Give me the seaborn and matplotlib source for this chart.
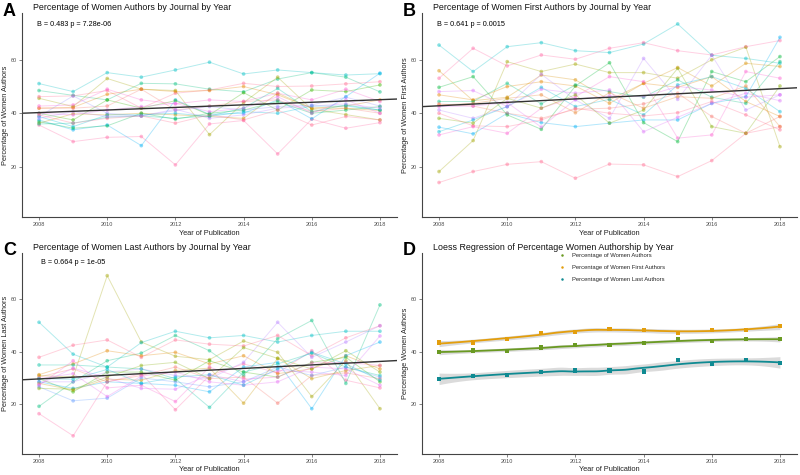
"""
Women authorship by journal and year - four panel figure
"""
import numpy as np
import pandas as pd
import matplotlib
matplotlib.use("Agg")
import matplotlib.pyplot as plt
import seaborn as sns

years = list(range(2008, 2019))
journals = [f"J{i:02d}" for i in range(1, 19)]

# percentage of women authors, one row per journal (2008 .. 2018)
women_authors = [
    [51.1, 48.1, 55.2, 53.5, 56.2, 59.1, 54.7, 56.2, 55.2, 54.3, 54.8],
    [48.5, 46.7, 45.0, 51.2, 51.0, 49.0, 48.0, 52.8, 55.2, 53.5, 48.0],
    [45.6, 42.5, 53.0, 49.0, 48.5, 32.0, 44.0, 53.5, 41.5, 39.5, 37.5],
    [35.6, 29.4, 31.0, 31.3, 20.7, 36.0, 37.3, 24.8, 37.8, 34.4, 36.5],
    [37.5, 33.8, 35.6, 27.9, 45.0, 39.6, 40.0, 45.0, 37.9, 46.2, 55.0],
    [46.2, 46.5, 48.5, 41.9, 47.5, 48.7, 51.2, 50.0, 50.2, 51.0, 51.8],
    [40.0, 37.5, 45.0, 41.9, 44.7, 39.4, 47.7, 41.2, 48.7, 48.1, 50.6],
    [41.9, 42.2, 47.1, 49.0, 48.1, 48.5, 50.0, 46.9, 41.9, 42.7, 45.0],
    [41.9, 41.9, 42.7, 49.0, 41.2, 42.7, 44.4, 45.0, 40.6, 41.9, 40.0],
    [38.8, 46.5, 40.0, 39.0, 41.0, 42.5, 41.2, 42.5, 43.1, 46.0, 42.7],
    [36.3, 39.8, 39.4, 40.0, 39.4, 38.8, 38.1, 47.5, 41.9, 41.9, 41.0],
    [38.8, 35.0, 39.4, 39.4, 40.0, 38.8, 40.6, 40.0, 42.7, 42.7, 41.2],
    [42.7, 43.1, 49.0, 45.0, 43.5, 45.0, 44.4, 47.5, 45.0, 49.0, 44.4],
    [36.0, 36.3, 38.5, 39.0, 38.1, 39.0, 41.9, 49.3, 40.6, 43.1, 41.2],
    [36.9, 34.4, 35.3, 40.0, 37.8, 40.0, 41.2, 44.4, 40.0, 41.2, 42.5],
    [40.0, 39.4, 41.2, 42.5, 43.7, 40.6, 41.9, 46.2, 40.0, 45.0, 40.0],
    [38.1, 40.6, 38.8, 39.0, 41.5, 38.1, 39.4, 41.9, 42.7, 43.5, 41.9],
    [39.4, 36.3, 38.1, 39.0, 36.3, 39.4, 37.5, 41.2, 35.6, 38.8, 37.5],
]

women_first = [
    [65.5, 55.6, 64.9, 66.4, 63.4, 62.7, 65.9, 73.4, 61.7, 60.5, 58.7],
    [53.1, 64.3, 57.7, 61.8, 60.2, 64.3, 66.4, 63.4, 61.8, 64.9, 67.2],
    [18.2, 29.8, 59.3, 55.6, 58.4, 55.2, 55.2, 53.1, 60.0, 64.7, 27.5],
    [14.1, 18.2, 20.9, 21.9, 15.7, 21.0, 20.7, 16.3, 22.3, 32.5, 35.0],
    [34.8, 32.3, 40.0, 36.5, 35.0, 36.3, 37.5, 37.5, 43.7, 46.2, 68.4],
    [49.7, 53.7, 39.4, 34.0, 50.2, 58.9, 36.5, 29.4, 55.6, 51.8, 61.2],
    [55.9, 44.7, 46.0, 54.3, 52.5, 45.0, 51.2, 57.1, 50.2, 58.7, 57.5],
    [46.9, 45.0, 50.0, 51.8, 50.2, 43.7, 51.2, 49.7, 53.7, 44.4, 38.8],
    [44.4, 44.4, 51.2, 43.5, 50.6, 48.1, 46.0, 52.5, 46.0, 43.7, 59.3],
    [43.5, 42.7, 40.0, 38.1, 41.5, 41.9, 43.5, 47.5, 38.8, 32.5, 38.8],
    [41.2, 38.1, 42.5, 54.6, 45.0, 38.1, 60.5, 45.2, 61.7, 41.2, 46.9],
    [31.9, 35.0, 32.5, 41.9, 46.2, 53.7, 51.8, 30.7, 31.9, 55.6, 53.1],
    [33.1, 37.5, 42.5, 49.7, 42.5, 45.2, 39.4, 50.6, 53.7, 49.3, 40.6],
    [40.0, 35.3, 35.0, 37.5, 41.9, 40.0, 39.0, 40.2, 44.4, 39.4, 33.8],
    [48.1, 48.5, 42.5, 49.0, 47.5, 48.7, 33.1, 38.5, 43.7, 47.5, 44.7],
    [38.1, 36.3, 45.6, 41.9, 46.9, 36.3, 41.2, 56.8, 35.0, 32.5, 50.2],
    [43.1, 43.7, 45.6, 46.9, 40.2, 47.7, 41.9, 46.2, 45.6, 50.2, 35.0],
    [42.5, 42.7, 44.0, 34.8, 45.2, 46.5, 46.2, 50.0, 48.7, 46.0, 46.9],
]

women_last = [
    [31.0, 30.4, 68.9, 43.7, 38.3, 37.0, 44.1, 39.8, 23.0, 36.6, 18.4],
    [51.2, 39.1, 34.2, 43.5, 47.8, 45.3, 46.2, 43.7, 46.2, 47.8, 47.8],
    [16.5, 8.1, 28.6, 31.7, 18.0, 31.0, 35.4, 32.0, 40.4, 29.2, 26.3],
    [19.3, 28.6, 36.6, 39.5, 46.2, 40.4, 31.0, 45.0, 51.9, 28.0, 57.8],
    [37.9, 42.5, 44.5, 37.9, 44.5, 42.9, 42.2, 46.2, 38.5, 45.3, 49.9],
    [28.6, 28.6, 32.3, 33.5, 31.0, 29.8, 36.0, 51.2, 37.9, 43.7, 49.9],
    [31.3, 35.4, 40.4, 38.5, 39.8, 35.4, 38.5, 31.7, 33.5, 38.5, 33.5],
    [29.8, 24.8, 32.3, 32.3, 29.2, 36.6, 32.3, 30.4, 36.0, 37.9, 28.6],
    [28.6, 26.1, 28.6, 28.0, 27.3, 24.8, 34.2, 36.0, 18.4, 38.5, 43.7],
    [35.0, 35.0, 34.2, 33.5, 29.8, 18.9, 32.3, 35.4, 39.5, 34.2, 31.0],
    [28.0, 25.5, 29.6, 29.2, 32.9, 33.8, 20.5, 37.5, 29.8, 32.9, 34.8],
    [30.4, 33.5, 28.6, 31.0, 34.2, 29.8, 30.4, 20.5, 31.0, 32.0, 29.8],
    [27.3, 36.6, 26.3, 27.3, 21.1, 34.2, 29.6, 30.4, 35.8, 36.0, 34.8],
    [27.6, 33.8, 30.1, 26.1, 25.8, 31.3, 28.6, 32.9, 32.3, 31.0, 46.0],
    [26.7, 21.4, 22.4, 30.1, 28.6, 26.7, 28.6, 34.2, 31.0, 34.2, 30.4],
    [26.1, 25.8, 30.4, 34.8, 36.0, 29.8, 41.6, 37.5, 33.5, 40.4, 32.3],
    [29.8, 31.7, 23.0, 30.8, 32.3, 28.6, 27.3, 28.6, 34.2, 33.5, 27.3],
    [29.8, 29.6, 33.3, 28.0, 30.4, 31.3, 27.3, 33.5, 39.8, 35.4, 29.2],
]

# line colour of each journal row, per panel
colors_authors = ["#00BFC4", "#00BF7D", "#A3A500", "#FF67A4", "#00B0F6", "#FF6C91",
                  "#39B600", "#E58700", "#F8766D", "#9590FF", "#C99800", "#00BCD8",
                  "#FD61D1", "#00C1A3", "#00BB4E", "#E76BF3", "#B983FF", "#FF6C91"]
colors_first = ["#00BFC4", "#FF67A4", "#A3A500", "#FF6C91", "#00B0F6", "#00BA38",
                "#D89000", "#E58700", "#00BF7D", "#F8766D", "#B983FF", "#FD61D1",
                "#00BCD8", "#FF6C91", "#DC71FA", "#85AD00", "#EA8331", "#E76BF3"]
colors_last = ["#A3A500", "#00BFC4", "#FF67A4", "#00BF7D", "#FF6C91", "#B983FF",
               "#E58700", "#39B600", "#00B0F6", "#00C1A3", "#C99800", "#F8766D",
               "#FD61D1", "#DC71FA", "#619CFF", "#85AD00", "#E76BF3", "#00BCD8"]

# yearly overall percentages for panel D
overall_authors = [39.9, 40.5, 40.2, 41.6, 42.5, 42.7, 43.2, 44.7, 44.0, 45.0, 44.7]
overall_first = [43.5, 43.5, 44.7, 47.0, 47.6, 48.7, 48.2, 47.2, 48.2, 48.2, 49.7]
overall_last = [29.8, 30.7, 31.3, 32.3, 32.9, 32.9, 32.5, 37.0, 35.4, 37.0, 35.7]

# linear trend reported on panels A-C: (value at 2008, slope)
trend_labels = ["B = 0.483 p = 7.28e-06", "B = 0.641 p = 0.0015", "B = 0.664 p = 1e-05"]
trend_start = [40.25, 42.8, 29.7]
trend_slope = [0.483, 0.641, 0.664]

series_names = ["Percentage of Women Authors", "Percentage of Women First Authors",
                "Percentage of Women Last Authors"]
series_colors = ["#6A9A22", "#E39E0C", "#0F8A92"]


def long_frame(rows):
    df = pd.DataFrame(rows, index=journals, columns=years)
    df = df.reset_index().melt(id_vars="index", var_name="year", value_name="pct")
    return df.rename(columns={"index": "journal"})


def loess_fit(x, y, grid, span=0.75):
    """Local quadratic loess with tricube weights, plus standard error"""
    x = np.asarray(x, float)
    y = np.asarray(y, float)
    n = len(x)
    q = int(np.floor(n * span))

    def row(x0):
        d = np.abs(x - x0)
        h = np.sort(d)[q - 1] * 1.001
        w = (1 - np.clip(d / h, 0, 1) ** 3) ** 3
        X = np.column_stack([np.ones(n), x - x0, (x - x0) ** 2])
        XtW = X.T * w
        return np.linalg.solve(XtW @ X, XtW)[0]

    L = np.array([row(v) for v in x])
    resid = y - L @ y
    IL = np.eye(n) - L
    sigma = np.sqrt(resid @ resid / np.trace(IL.T @ IL))
    Lg = np.array([row(v) for v in grid])
    return Lg @ y, sigma * np.sqrt((Lg ** 2).sum(axis=1))


sns.set_theme(style="ticks")
plt.rcParams["font.family"] = ["Liberation Sans", "DejaVu Sans"]

fig = plt.figure(figsize=(8, 4.75), dpi=100)
W, H = 800, 475

# axes boxes in pixels: left, top, right, bottom
boxes = [(22, 13, 397, 217), (422, 13, 797, 217), (22, 253, 397, 454), (422, 253, 797, 454)]
axes = []
for l, t, r, b in boxes:
    axes.append(fig.add_axes([l / W, 1 - b / H, (r - l) / W, (b - t) / H]))

titles = ["Percentage of Women Authors by Journal by Year",
          "Percentage of Women First Authors by Journal by Year",
          "Percentage of Women Last Authors by Journal by Year",
          "Loess Regression of Percentage Women Authorship by Year"]
ylabels = ["Percentage of Women Authors", "Percentage of Women First Authors",
           "Percentage of Women Last Authors", "Percentage Women Authors"]
letters = ["A", "B", "C", "D"]

panel_data = [women_authors, women_first, women_last]
panel_colors = [colors_authors, colors_first, colors_last]

for i, rows in enumerate(panel_data):
    ax = axes[i]
    df = long_frame(rows)
    pal = dict(zip(journals, panel_colors[i]))
    sns.lineplot(data=df, x="year", y="pct", hue="journal", palette=pal,
                 linewidth=0.7, alpha=0.3, errorbar=None, legend=False, ax=ax)
    sns.scatterplot(data=df, x="year", y="pct", hue="journal", palette=pal,
                    s=7, linewidth=0, alpha=0.45, legend=False, ax=ax)
    ax.axline((2008, trend_start[i]), slope=trend_slope[i], color="#333333", lw=1.0)
    ax.text(0.04 if i < 2 else 0.05, 0.945 if i < 2 else 0.955, trend_labels[i],
            transform=ax.transAxes, fontsize=5.2, va="center", ha="left", color="black")

# panel D: loess smooths with confidence band
axd = axes[3]
grid = np.linspace(2008, 2018, 120)
for name, vals, col in zip(series_names, [overall_authors, overall_first, overall_last], series_colors):
    fit, se = loess_fit(years, vals, grid)
    axd.fill_between(grid, fit - 2.3 * se, fit + 2.3 * se, color="#999999", alpha=0.35, lw=0)
    axd.plot(grid, fit, color=col, lw=1.3)
dfd = pd.DataFrame({"year": years * 3,
                    "pct": overall_authors + overall_first + overall_last,
                    "series": [n for n in series_names for _ in years]})
sns.scatterplot(data=dfd, x="year", y="pct", hue="series", hue_order=series_names,
                palette=dict(zip(series_names, series_colors)), s=9, linewidth=0,
                marker="s", ax=axd)
leg = axd.legend(loc="upper left", bbox_to_anchor=(0.35, 1.025), frameon=False,
                 fontsize=4.2, markerscale=0.6, handletextpad=1.1, labelspacing=1.2,
                 handlelength=1.2)
for h in leg.legend_handles:
    h.set_marker("o")

for i, ax in enumerate(axes):
    ax.set_xlim(2007.5, 2018.5)
    ax.set_ylim(1.2, 77.5)
    ax.set_xticks(range(2008, 2019, 2))
    ax.set_yticks([20, 40, 60])
    ax.tick_params(labelsize=4, length=2, width=0.5, color="#555555",
                   labelcolor="#4D4D4D", pad=1.5)
    for s in ["top", "right"]:
        ax.spines[s].set_visible(False)
    for s in ["left", "bottom"]:
        ax.spines[s].set_color("#444444")
        ax.spines[s].set_linewidth(0.8)
    ax.set_xlabel("Year of Publication", fontsize=5.3, color="#222222")
    ax.set_ylabel(ylabels[i], fontsize=5.3, color="#222222")
    ax.xaxis.set_label_coords(0.5, -0.062)
    ax.yaxis.set_label_coords(-0.035, 0.5)
    l, t, r, b = boxes[i]
    fig.text((l + 11) / W, 1 - (t - 6) / H, titles[i], fontsize=6.4, va="center",
             ha="left", color="#111111")
    fig.text((l - 19) / W, 1 - (t - 2) / H, letters[i], fontsize=13, fontweight="bold",
             va="center", ha="left", color="black")

fig.savefig("out.png", dpi=100)
